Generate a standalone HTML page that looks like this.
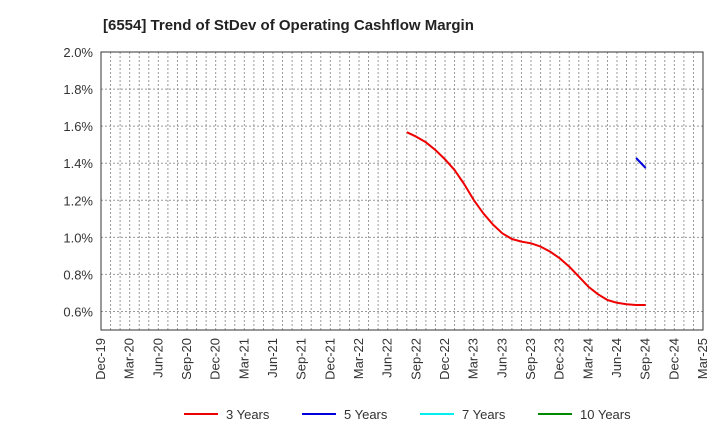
<!DOCTYPE html>
<html><head><meta charset="utf-8"><style>
body{margin:0;background:#fff;font-family:"Liberation Sans",Arial,sans-serif}
svg text{font-family:"Liberation Sans",Arial,sans-serif}
</style></head><body>
<svg id="c" width="720" height="440" xmlns="http://www.w3.org/2000/svg">
<text x="103" y="30" font-size="15" font-weight="bold" fill="#222">[6554]  Trend of StDev of Operating Cashflow Margin</text>
<g id="grid"></g><g id="axes"></g><g id="series"></g><g id="legend"></g>
</svg>
<script>
const xLabels=["Dec-19","Mar-20","Jun-20","Sep-20","Dec-20","Mar-21","Jun-21","Sep-21","Dec-21","Mar-22","Jun-22","Sep-22","Dec-22","Mar-23","Jun-23","Sep-23","Dec-23","Mar-24","Jun-24","Sep-24","Dec-24","Mar-25"];
const yTicks=[0.6,0.8,1.0,1.2,1.4,1.6,1.8,2.0];
const red3Start=32;
const red3=[1.567,1.543,1.513,1.471,1.421,1.363,1.288,1.202,1.130,1.070,1.022,0.991,0.977,0.968,0.950,0.923,0.887,0.842,0.788,0.734,0.693,0.662,0.647,0.639,0.635,0.635];
const blue5Start=56;
const blue5=[1.428,1.374];
const L=101,R=703,T=52,B=330,yMin=0.5,yMax=2.0,months=63;
const xs=m=>L+(R-L)*m/months;
const ys=v=>B-(B-T)*(v-yMin)/(yMax-yMin);
const NS="http://www.w3.org/2000/svg";
function mk(t,a,p){const e=document.createElementNS(NS,t);for(const k in a)e.setAttribute(k,a[k]);p.appendChild(e);return e;}
const g=document.getElementById('grid'),ax=document.getElementById('axes'),se=document.getElementById('series'),lg=document.getElementById('legend');
for(let m=1;m<months;m++){const l=mk('line',{x1:xs(m),x2:xs(m),y1:T,y2:B,stroke:'#999','stroke-width':1,'stroke-dasharray':'2,2'},g);

}
yTicks.forEach(v=>{const l=mk('line',{x1:L,x2:R,y1:ys(v),y2:ys(v),stroke:'#999','stroke-width':1,'stroke-dasharray':'2,2'},g);


const t=mk('text',{x:L-8,y:ys(v)+5,'text-anchor':'end','font-size':13,fill:'#333'},ax);t.textContent=v.toFixed(1)+'%';

});
const fr=mk('rect',{x:L,y:T,width:R-L,height:B-T,fill:'none',stroke:'#333','stroke-width':1},ax);


xLabels.forEach((s,i)=>{const x=xs(i*3);const t=mk('text',{x:x+4,y:B+8,'text-anchor':'end','font-size':13,fill:'#333',transform:`rotate(-90 ${x+4} ${B+8})`},ax);t.textContent=s;

});
function line(arr,start,color,name){const d=arr.map((v,i)=>(i?'L':'M')+xs(start+i).toFixed(1)+','+ys(v).toFixed(1)).join('');
const p=mk('path',{d,fill:'none',stroke:color,'stroke-width':2,'stroke-linejoin':'round'},se);

}
line(red3,red3Start,'#e00','series-3-years');
line(blue5,blue5Start,'#00d','series-5-years');
const items=[["3 Years","#e00",184],["5 Years","#00d",302],["7 Years","#0ee",420],["10 Years","#080",538]];
items.forEach(([n,c,x])=>{const gg=mk('g',{},lg);


mk('line',{x1:x,x2:x+34,y1:414,y2:414,stroke:c,'stroke-width':2},gg);
const t=mk('text',{x:x+42,y:419,'font-size':13,fill:'#333'},gg);t.textContent=n;});
</script>
</body></html>
